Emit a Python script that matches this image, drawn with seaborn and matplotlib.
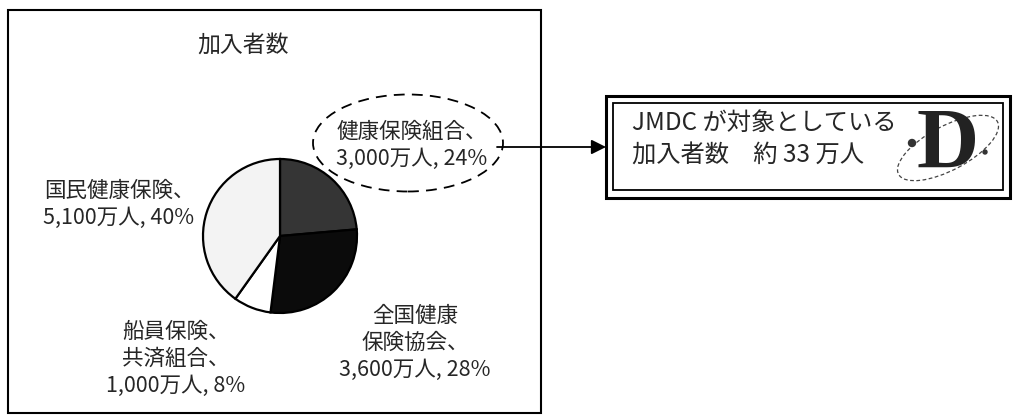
import matplotlib
matplotlib.use("Agg")
import matplotlib.pyplot as plt
import seaborn as sns
from matplotlib.patches import Rectangle, Ellipse, Circle

W, H = 1013, 416

# 加入者数 (万人) by insurer type, clockwise from 12 o'clock
plans = ["健康保険組合", "全国健康\n保険協会", "船員保険、\n共済組合", "国民健康保険"]
members = [3000, 3600, 1000, 5100]
slice_colors = ["#353535", "#0b0b0b", "#ffffff", "#f3f3f3"]

title = "加入者数"
box_lines = ["JMDC が対象としている", "加入者数　約 33 万人"]

sns.set_theme(style="white")
plt.rcParams["font.family"] = ["Noto Sans CJK JP", "DejaVu Sans"]


def Y(y):
    # pixel row (top-down) -> data y (bottom-up)
    return H - y


fig = plt.figure(figsize=(W / 100, H / 100), dpi=100)
ax = fig.add_axes([0, 0, 1, 1])

wedges, _ = ax.pie(
    members,
    colors=slice_colors,
    startangle=90,
    counterclock=False,
    center=(280, Y(236)),
    radius=77,
    wedgeprops=dict(edgecolor="black", linewidth=1.6),
)
ax.set_xlim(0, W)
ax.set_ylim(0, H)
ax.set_aspect("equal")
ax.axis("off")

total = sum(members)
label_xy = [(412, 145), (415, 343), (176, 359), (119, 204)]
for name, v, (x, y) in zip(plans, members, label_xy):
    pct = round(100 * v / total)
    ax.text(x, Y(y), f"{name}、\n{v:,}万人, {pct}%", fontsize=15.5,
            ha="center", va="center", linespacing=1.3)

ax.text(243, Y(45), title, fontsize=16.5, ha="center", va="center")

# outer frame around the pie panel
ax.add_patch(Rectangle((8, Y(413)), 533, 403, fill=False, lw=1.5, ec="black"))

# dashed highlight round 健康保険組合
ax.add_patch(Ellipse((408, Y(143)), 190, 97, fill=False, ec="black",
                     lw=1.3, ls=(0, (6, 4))))

ax.annotate("", xy=(606, Y(147)), xytext=(497, Y(147)),
            arrowprops=dict(arrowstyle="-|>", color="black", lw=1.3,
                            mutation_scale=22, shrinkA=0, shrinkB=0))

# double-bordered callout box
ax.add_patch(Rectangle((606, Y(198)), 404, 102, fill=False, lw=2.2, ec="black"))
ax.add_patch(Rectangle((613, Y(190)), 390, 87, fill=False, lw=1.3, ec="black"))
for i, line in enumerate(box_lines):
    ax.text(632, Y(123 + 33 * i), line, fontsize=17.5, ha="left", va="center")

# logo
ax.add_patch(Ellipse((948, Y(148)), 112, 44, angle=28, fill=False, ec="#444444",
                     lw=0.9, ls=(0, (3, 2))))
ax.text(948, Y(147), "D", fontsize=62, fontweight="bold", family="Liberation Serif",
        color="#222222", ha="center", va="center")
ax.add_patch(Circle((912, Y(143)), 3.5, color="#333333"))
ax.add_patch(Circle((985, Y(152)), 2, color="#333333"))

fig.savefig("out.png", dpi=100)
